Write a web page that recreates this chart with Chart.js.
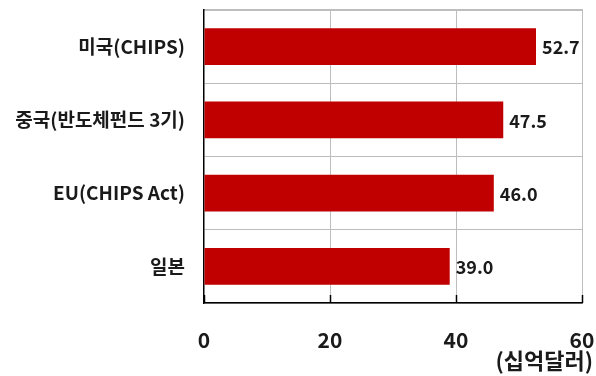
<!DOCTYPE html>
<html>
<head>
<meta charset="utf-8">
<script src="https://cdn.jsdelivr.net/npm/chart.js@4/dist/chart.umd.min.js"></script>
<style>
  html, body { margin: 0; padding: 0; background: #fff; }
  #wrap { width: 596px; height: 376px; position: relative; }
</style>
</head>
<body>
<div id="wrap"><canvas id="c" width="596" height="376"></canvas></div>
<script>
// Semiconductor support funds by country, billions of USD
const categories = ['미국(CHIPS)', '중국(반도체펀드 3기)', 'EU(CHIPS Act)', '일본'];
const values = [52.7, 47.5, 46.0, 39.0];
const xTicks = [0, 20, 40, 60];
const unitLabel = '(십억달러)';

const FONT = "'Noto Sans CJK KR', 'Noto Sans', sans-serif";
const TEXT = '#1a1a1a';
const GRID = '#bdbdbd';

// Value labels just past the end of each bar
const valueLabels = {
  id: 'valueLabels',
  afterDatasetsDraw(chart) {
    const ctx = chart.ctx;
    const meta = chart.getDatasetMeta(0);
    ctx.save();
    ctx.font = 'bold 18px ' + FONT;
    ctx.fillStyle = TEXT;
    ctx.textAlign = 'left';
    ctx.textBaseline = 'middle';
    meta.data.forEach((bar, i) => {
      ctx.fillText(values[i].toFixed(1), bar.x + 6, bar.y + 1);
    });
    ctx.restore();
  }
};

// Short inward tick marks on the value axis and the unit caption
const axisExtras = {
  id: 'axisExtras',
  afterDraw(chart) {
    const ctx = chart.ctx;
    const area = chart.chartArea;
    const xs = chart.scales.x;
    ctx.save();
    ctx.strokeStyle = '#000';
    ctx.lineWidth = 1.5;
    xTicks.forEach(v => {
      const px = Math.round(xs.getPixelForValue(v)) + 0.5;
      ctx.beginPath();
      ctx.moveTo(px, area.bottom - 8);
      ctx.lineTo(px, area.bottom);
      ctx.stroke();
    });
    ctx.font = 'bold 22px ' + FONT;
    ctx.fillStyle = TEXT;
    ctx.textAlign = 'right';
    ctx.textBaseline = 'middle';
    ctx.fillText(unitLabel, 593, 361);
    ctx.restore();
  }
};

new Chart(document.getElementById('c'), {
  type: 'bar',
  data: {
    labels: categories,
    datasets: [{
      data: values,
      backgroundColor: '#C00000',
      borderWidth: 0,
      barPercentage: 0.5,
      categoryPercentage: 1.0
    }]
  },
  options: {
    indexAxis: 'y',
    responsive: false,
    animation: false,
    devicePixelRatio: 1,
    layout: { padding: { top: 10, right: 14, left: 0, bottom: 0 } },
    plugins: { legend: { display: false }, tooltip: { enabled: false } },
    scales: {
      x: {
        min: 0,
        max: 60,
        afterBuildTicks(scale) { scale.ticks = xTicks.map(v => ({ value: v })); },
        afterFit(scale) {
          scale.height = 73;
          scale.paddingLeft = 0;
          scale.paddingRight = 0;
        },
        grid: {
          color: (c) => c.tick && c.tick.value === 0 ? 'rgba(0,0,0,0)' : GRID,
          lineWidth: 1,
          drawTicks: false
        },
        border: { display: true, color: '#000', width: 1.5 },
        ticks: {
          padding: 24,
          color: TEXT,
          font: { family: FONT, size: 21, weight: 'bold' }
        }
      },
      // Frame line along the top of the plot
      xTop: {
        position: 'top',
        min: 0,
        max: 60,
        afterFit(scale) {
          scale.height = 0;
          scale.paddingLeft = 0;
          scale.paddingRight = 0;
        },
        grid: { display: false, drawTicks: false },
        border: { display: true, color: GRID, width: 1.5 },
        ticks: { display: false }
      },
      y: {
        afterFit(scale) {
          scale.width = 204;
          scale.paddingTop = 0;
          scale.paddingBottom = 0;
        },
        grid: {
          color: GRID,
          lineWidth: 1,
          drawTicks: false,
          offset: true
        },
        border: { display: true, color: '#000', width: 1.5 },
        ticks: {
          padding: 19,
          color: TEXT,
          font: { family: FONT, size: 19, weight: 'bold' }
        }
      }
    }
  },
  plugins: [valueLabels, axisExtras]
});
</script>
</body>
</html>
